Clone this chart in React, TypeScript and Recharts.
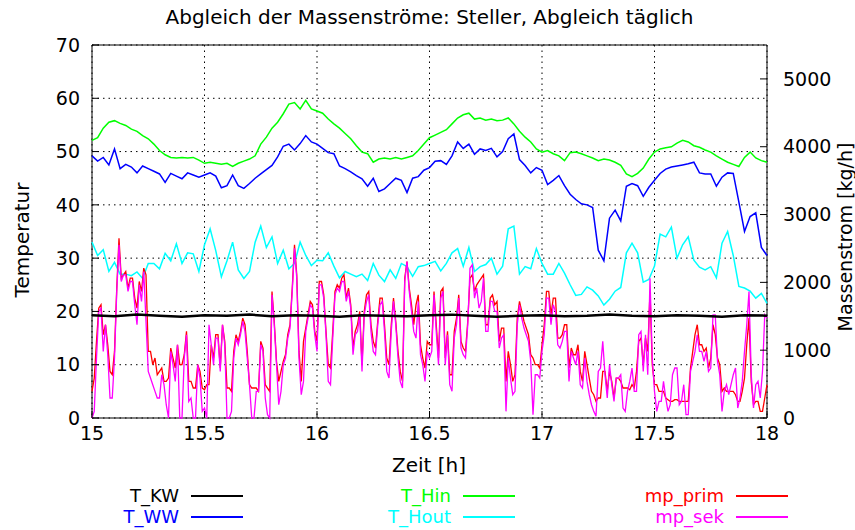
import { LineChart, Line, XAxis, YAxis, CartesianGrid, ReferenceArea } from 'recharts'

// time axis ticks [h] and axis ticks
const X_TICKS = [15, 15.5, 16, 16.5, 17, 17.5, 18]
const TEMP_TICKS = [0, 10, 20, 30, 40, 50, 60, 70]
const FLOW_TICKS = [0, 1000, 2000, 3000, 4000, 5000]

// temperatures, sampled every 0.025 h from 15.0 h
const T_HIN = [
  52.1, 52.6, 54.4, 55.5, 55.8, 55.3, 54.9, 54.2, 53.8, 53.0,
  52.4, 51.4, 50.2, 49.4, 48.9, 48.8, 48.9, 48.8, 48.9, 48.4,
  47.8, 48.0, 47.8, 47.6, 47.8, 47.2, 47.8, 48.2, 48.6, 49.2,
  51.4, 52.7, 54.4, 55.5, 57.1, 58.9, 59.2, 58.0, 59.6, 58.0,
  57.6, 57.2, 56.1, 55.2, 54.4, 53.4, 52.4, 51.1, 49.9, 49.6,
  48.0, 48.6, 48.8, 48.6, 48.9, 48.6, 48.9, 49.2, 50.2, 51.4,
  52.6, 53.1, 53.6, 54.1, 55.2, 56.3, 56.9, 57.2, 56.1, 56.3,
  55.9, 56.1, 55.8, 55.9, 56.3, 55.2, 53.8, 52.7, 51.8, 50.5,
  49.9, 50.2, 49.6, 49.2, 48.3, 49.8, 49.9, 49.6, 49.2, 48.8,
  48.3, 48.6, 48.4, 48.0, 47.4, 45.8, 45.3, 45.9, 46.9, 48.6,
  49.9, 50.5, 50.7, 50.9, 51.6, 52.1, 51.8, 51.1, 50.8, 50.3,
  49.9, 49.2, 48.6, 48.0, 47.6, 47.2, 48.9, 49.9, 48.8, 48.3,
  48.0,
]

const T_WW = [
  49.2, 48.2, 48.9, 47.5, 50.5, 46.8, 47.6, 47.1, 46.0, 47.3,
  46.8, 46.3, 45.8, 44.2, 45.9, 45.4, 44.9, 46.0, 45.6, 45.2,
  45.6, 46.0, 45.4, 43.2, 43.6, 45.6, 43.6, 43.1, 44.0, 45.0,
  45.8, 46.6, 47.4, 49.0, 51.0, 51.4, 50.3, 51.5, 53.0, 51.8,
  51.4, 50.6, 49.8, 49.6, 47.3, 46.8, 46.2, 45.5, 44.9, 43.5,
  45.0, 42.5, 43.0, 44.0, 45.0, 44.6, 42.3, 45.0, 45.3, 46.5,
  47.0, 48.2, 48.3, 47.6, 49.2, 51.8, 50.6, 51.4, 49.5, 50.5,
  50.2, 50.6, 49.0, 50.0, 52.4, 53.3, 48.5, 47.4, 46.0, 47.0,
  46.5, 43.8, 44.6, 45.5, 43.6, 42.0, 41.0, 40.2, 40.0, 39.5,
  31.5, 29.5, 37.5, 39.0, 37.0, 43.5, 44.0, 43.6, 41.6, 43.3,
  44.6, 45.9, 46.7, 47.1, 47.3, 47.5, 47.7, 48.0, 46.0, 45.8,
  45.8, 43.5, 45.2, 46.0, 45.9, 40.5, 35.0, 37.8, 38.5, 32.0,
  30.5,
]

const T_HOUT = [
  33.0, 30.5, 31.6, 27.5, 29.2, 27.0, 27.0, 26.7, 27.4, 26.2,
  29.0, 29.0, 28.0, 30.9, 29.5, 32.7, 29.0, 31.0, 30.8, 27.5,
  32.5, 35.5, 31.4, 26.5, 29.5, 33.0, 27.8, 26.2, 27.5, 33.0,
  36.0, 32.0, 34.0, 29.0, 31.5, 28.0, 29.0, 33.0, 30.5, 28.6,
  29.6, 29.5, 31.0, 28.5, 26.3, 27.5, 27.0, 26.5, 27.0, 25.8,
  29.0, 26.8, 25.6, 27.8, 26.2, 29.0, 28.4, 26.6, 28.4, 28.6,
  29.0, 29.4, 27.6, 29.0, 31.0, 31.8, 28.5, 32.0, 27.5, 28.4,
  28.8, 30.0, 27.0, 28.5, 35.5, 36.0, 27.0, 28.4, 28.0, 31.8,
  29.0, 27.0, 27.0, 29.0, 27.2, 25.0, 23.0, 23.2, 24.6, 24.0,
  22.9, 21.2, 22.3, 23.8, 24.5, 31.0, 32.8, 31.0, 25.5, 26.0,
  28.5, 34.5, 34.0, 35.8, 30.0, 32.5, 34.0, 29.6, 28.3, 27.8,
  28.4, 26.3, 32.8, 35.0, 30.5, 24.7, 24.4, 23.8, 22.5, 23.4,
  21.5,
]

// cold water, sampled every 0.1 h
const T_KW = [
  19.3, 19.1, 19.4, 19.2, 19.0, 19.3, 19.2, 19.4, 19.1, 19.3,
  19.2, 19.0, 19.3, 19.2, 19.1, 19.3, 19.4, 19.2, 19.0, 19.2,
  19.3, 19.1, 19.2, 19.4, 19.2, 19.1, 19.3, 19.2, 19.0, 19.3,
  19.2,
]

// mass flows [kg/h], sampled every 0.01 h
const MP_PRIM = [
  // 15.00 - 15.75
  393, 589, 1130, 1620, 1670, 1228, 1375, 1080, 687, 638,
  982, 1915, 2650, 2062, 2111, 2160, 1915, 2062, 2062, 1768,
  1620, 2013, 1866, 2210, 2111, 982, 982, 786, 884, 638,
  687, 737, 540, 540, 589, 1031, 884, 737, 1080, 786,
  786, 933, 1277, 540, 540, 442, 442, 786, 687, 442,
  417, 491, 491, 1080, 884, 1228, 1228, 737, 1375, 1130,
  442, 442, 393, 982, 1228, 1130, 1277, 1473, 1375, 982,
  491, 442, 442, 442, 393, 1130,
  // 15.76 - 16.49
  1031, 491, 442, 393, 1866, 1424, 835, 540, 687, 835,
  933, 1228, 1375, 1915, 2553, 2111, 982, 540, 1130, 1326,
  1522, 1719, 1669, 1277, 1130, 2013, 2013, 1817, 1277, 786,
  737, 1277, 1866, 1964, 1915, 2062, 2111, 1768, 1915, 1669,
  1031, 1277, 1375, 1571, 786, 1571, 1817, 1866, 1375, 1130,
  1031, 1424, 1768, 1768, 1375, 884, 786, 1375, 1768, 1424,
  982, 687, 540, 2062, 2308, 1915, 1669, 1375, 1669, 1817,
  1080, 884, 737, 1130,
  // 16.50 - 17.25
  1080, 1080, 1866, 1375, 884, 1866, 1915, 884, 1277, 638,
  638, 1277, 1473, 1817, 1130, 1031, 982, 1424, 2062, 2111,
  1866, 1964, 2013, 2062, 2111, 1375, 1375, 1768, 1817, 1669,
  1719, 1130, 1326, 1326, 540, 982, 786, 540, 638, 1473,
  1719, 1571, 1424, 1326, 1228, 933, 884, 786, 786, 737,
  1080, 1375, 1866, 1866, 1522, 1768, 1768, 1178, 1178, 1228,
  1375, 1375, 737, 1031, 933, 933, 1080, 687, 540, 982,
  786, 589, 393, 344, 245, 295,
  // 17.26 - 18.00
  295, 687, 687, 393, 687, 540, 295, 589, 589, 540,
  442, 442, 442, 417, 491, 442, 687, 1130, 1178, 786,
  1178, 982, 1866, 786, 491, 491, 393, 393, 393, 295,
  270, 245, 245, 270, 270, 245, 245, 245, 245, 245,
  737, 982, 1228, 1375, 1080, 1080, 982, 1031, 737, 884,
  1375, 1228, 884, 786, 393, 442, 393, 393, 393, 393,
  344, 245, 245, 393, 589, 1080, 1473, 540, 196, 245,
  245, 98, 98, 295, 491,
]

const MP_SEK = [
  // 15.00 - 15.75
  0, 98, 884, 1571, 1620, 982, 1375, 933, 295, 295,
  884, 1866, 2553, 2013, 2111, 2111, 1866, 2013, 2013, 1669,
  1375, 1964, 1719, 2160, 1424, 687, 589, 491, 393, 295,
  295, 638, 491, 196, 0, 982, 786, 540, 1080, 0,
  0, 884, 1228, 245, 295, 0, 0, 786, 589, 98,
  147, 0, 1375, 1080, 786, 1178, 1178, 687, 1375, 1080,
  0, 0, 98, 884, 1178, 1080, 1228, 1424, 1277, 884,
  491, 0, 0, 393, 393, 1080,
  // 15.76 - 16.49
  982, 295, 49, 0, 1817, 1375, 786, 196, 393, 786,
  884, 1178, 1326, 1866, 2504, 2062, 884, 344, 540, 1277,
  1473, 1669, 1620, 1228, 982, 1964, 1964, 1768, 1228, 540,
  491, 1178, 1817, 1915, 1866, 2013, 2013, 1719, 1866, 1620,
  933, 1228, 1277, 1522, 687, 1522, 1719, 1817, 1277, 982,
  933, 1375, 1669, 1719, 1277, 687, 589, 1277, 1719, 1375,
  884, 540, 442, 2013, 2308, 1866, 1571, 1277, 1178, 1719,
  933, 786, 540, 982,
  // 16.50 - 17.25
  884, 982, 1817, 1277, 786, 1768, 1866, 786, 1228, 491,
  393, 1178, 1375, 1768, 1031, 933, 884, 1375, 2210, 2259,
  1768, 1915, 1620, 1719, 2062, 1277, 1277, 1719, 1719, 1571,
  1571, 1031, 1178, 1228, 98, 884, 589, 344, 393, 1375,
  1669, 1473, 1326, 1228, 1130, 835, 49, 638, 638, 589,
  982, 1228, 1768, 1768, 1375, 1669, 1571, 1080, 1031, 1130,
  1277, 1277, 540, 982, 884, 786, 982, 491, 442, 884,
  540, 344, 196, 98, 25, 687,
  // 17.26 - 18.00
  737, 1130, 638, 295, 786, 491, 245, 589, 589, 638,
  147, 98, 393, 540, 737, 393, 393, 1228, 1277, 687,
  1228, 638, 2062, 884, 393, 98, 245, 245, 540, 295,
  98, 196, 638, 737, 737, 196, 245, 491, 49, 49,
  687, 835, 982, 1228, 982, 982, 835, 982, 687, 737,
  1522, 1522, 835, 638, 98, 393, 491, 344, 491, 638,
  737, 147, 295, 540, 982, 1375, 1866, 638, 147, 491,
  540, 295, 687, 1522, 1473,
]

const toPoints = (values: number[], step: number) =>
  values.map((v, i) => ({ t: +(15 + i * step).toFixed(3), v }))

const FONT = '"DejaVu Sans", sans-serif'

const LEGEND = [
  { name: 'T_KW', color: '#000000', right: 179, row: 0 },
  { name: 'T_WW', color: '#0000ff', right: 179, row: 1 },
  { name: 'T_Hin', color: '#00ff00', right: 451, row: 0 },
  { name: 'T_Hout', color: '#00ffff', right: 451, row: 1 },
  { name: 'mp_prim', color: '#ff0000', right: 724, row: 0 },
  { name: 'mp_sek', color: '#ff00ff', right: 724, row: 1 },
]

const tickStyle = { fill: '#000', fontSize: 19, fontFamily: FONT }
const tickLineStyle = { stroke: '#000' }

export default function App() {
  return (
    <div style={{ position: 'absolute', left: 0, top: 0, width: 855, height: 530, background: '#fff', fontFamily: FONT }}>
      <LineChart width={855} height={530} margin={{ top: 45, right: 28, bottom: 82, left: 32 }}>
        <CartesianGrid yAxisId="left" stroke="#000" strokeDasharray="1.5 4" />
        <XAxis
          dataKey="t"
          type="number"
          domain={[15, 18]}
          ticks={X_TICKS}
          allowDuplicatedCategory={false}
          axisLine={false}
          tickLine={tickLineStyle}
          tickSize={-7}
          tickMargin={16}
          height={30}
          tick={tickStyle}
        />
        <YAxis
          yAxisId="left"
          domain={[0, 70]}
          ticks={TEMP_TICKS}
          axisLine={false}
          tickLine={tickLineStyle}
          tickSize={-7}
          tickMargin={19}
          width={60}
          tick={tickStyle}
        />
        <YAxis
          yAxisId="right"
          orientation="right"
          domain={[0, 5500]}
          ticks={FLOW_TICKS}
          axisLine={false}
          tickLine={tickLineStyle}
          tickSize={-7}
          tickMargin={23}
          width={60}
          tick={tickStyle}
        />
        <Line yAxisId="left" data={toPoints(T_HOUT, 0.025)} dataKey="v" stroke="#00ffff" strokeWidth={1.5} dot={false} isAnimationActive={false} />
        <Line yAxisId="left" data={toPoints(T_HIN, 0.025)} dataKey="v" stroke="#00ff00" strokeWidth={1.5} dot={false} isAnimationActive={false} />
        <Line yAxisId="left" data={toPoints(T_WW, 0.025)} dataKey="v" stroke="#0000ff" strokeWidth={1.5} dot={false} isAnimationActive={false} />
        <Line yAxisId="right" data={toPoints(MP_PRIM, 0.01)} dataKey="v" stroke="#ff0000" strokeWidth={1.3} dot={false} isAnimationActive={false} />
        <Line yAxisId="right" data={toPoints(MP_SEK, 0.01)} dataKey="v" stroke="#ff00ff" strokeWidth={1.3} dot={false} isAnimationActive={false} />
        <Line yAxisId="left" data={toPoints(T_KW, 0.1)} dataKey="v" stroke="#000000" strokeWidth={2.5} dot={false} isAnimationActive={false} />
        <ReferenceArea yAxisId="left" x1={15} x2={18} y1={0} y2={70} fill="none" stroke="#000" strokeWidth={1} />
      </LineChart>

      <div style={{ position: 'absolute', left: 92, width: 675, top: 5, textAlign: 'center', fontSize: 20, whiteSpace: 'nowrap' }}>
        Abgleich der Massenströme: Steller, Abgleich täglich
      </div>
      <div style={{ position: 'absolute', left: 22, top: 240, transform: 'translate(-50%, -50%) rotate(-90deg)', fontSize: 20, whiteSpace: 'nowrap' }}>
        Temperatur
      </div>
      <div style={{ position: 'absolute', left: 845, top: 237, transform: 'translate(-50%, -50%) rotate(-90deg)', fontSize: 19, whiteSpace: 'nowrap' }}>
        Massenstrom [kg/h]
      </div>
      <div style={{ position: 'absolute', left: 429, top: 465, transform: 'translate(-50%, -50%)', fontSize: 20, whiteSpace: 'nowrap' }}>
        Zeit [h]
      </div>

      {LEGEND.map((item) => {
        const y = 496 + item.row * 21
        return (
          <div key={item.name}>
            <div style={{ position: 'absolute', right: 855 - item.right, top: y, transform: 'translateY(-50%)', fontSize: 18, color: item.color, whiteSpace: 'nowrap', lineHeight: 1 }}>
              {item.name}
            </div>
            <div style={{ position: 'absolute', left: item.right + 12, top: y - 1, width: 52, height: 1.5, background: item.color }} />
          </div>
        )
      })}
    </div>
  )
}
